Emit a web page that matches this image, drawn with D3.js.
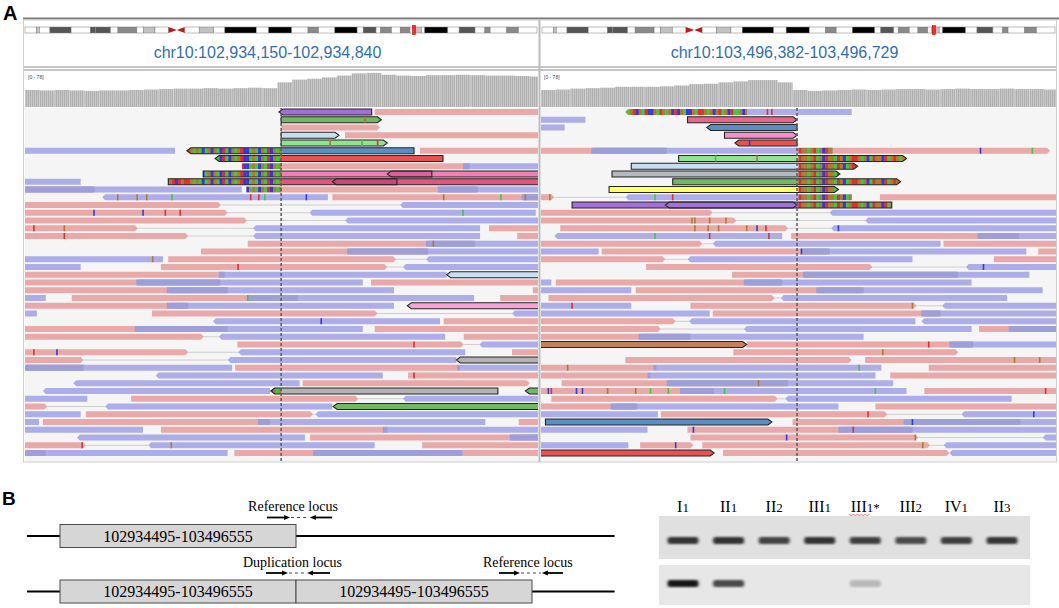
<!DOCTYPE html>
<html>
<head>
<meta charset="utf-8">
<script src="https://cdn.jsdelivr.net/npm/d3@7"></script>
<style>
  body { margin: 0; background: #fff; }
  svg { display: block; }
</style>
</head>
<body>
<svg id="fig" width="1059" height="608"></svg>
<script>
// ---- data -------------------------------------------------------------

// genomic windows shown in the two IGV panels and the duplication breakpoints
const windowLeft = [102934150, 102934840];
const windowRight = [103496382, 103496729];
const breakpoints = [102934495, 103496555];
const locusLabels = ["chr10:102,934,150-102,934,840", "chr10:103,496,382-103,496,729"];
const coverageRange = 78;

// chr10 cytobands (Mb)
const chr10Bands = [
  [0, 3.0, "gneg"], [3.0, 3.8, "gpos25"], [3.8, 6.6, "gneg"], [6.6, 12.2, "gpos75"],
  [12.2, 17.3, "gneg"], [17.3, 18.6, "gpos75"], [18.6, 18.7, "gneg"], [18.7, 22.6, "gpos75"],
  [22.6, 24.6, "gneg"], [24.6, 29.6, "gpos50"], [29.6, 31.3, "gneg"], [31.3, 34.4, "gpos25"],
  [34.4, 38.0, "gneg"], [38.0, 40.2, "acen"], [40.2, 42.3, "acen"], [42.3, 46.1, "gneg"],
  [46.1, 49.9, "gpos25"], [49.9, 52.9, "gneg"], [52.9, 61.2, "gpos100"], [61.2, 64.5, "gneg"],
  [64.5, 70.6, "gpos100"], [70.6, 74.9, "gneg"], [74.9, 77.7, "gpos50"], [77.7, 82.0, "gneg"],
  [82.0, 87.9, "gpos100"], [87.9, 89.5, "gneg"], [89.5, 92.9, "gpos75"], [92.9, 94.1, "gneg"],
  [94.1, 97.0, "gpos50"], [97.0, 99.3, "gneg"], [99.3, 101.9, "gpos50"], [101.9, 103.0, "gneg"],
  [103.0, 104.9, "gpos25"], [104.9, 105.8, "gneg"], [105.8, 111.9, "gpos100"], [111.9, 114.9, "gneg"],
  [114.9, 119.1, "gpos75"], [119.1, 121.7, "gneg"], [121.7, 123.1, "gpos50"], [123.1, 127.5, "gneg"],
  [127.5, 130.6, "gpos50"], [130.6, 135.5, "gneg"]
];
const chr10Length = 135.5;

// coverage (reads) per bin, bins of 20 bp (left) and 10 bp (right)
const coverageLeft = [38, 37, 38, 37, 36, 37, 37, 38, 39, 40, 41, 41, 42, 41, 42, 43, 42, 55, 61, 63,
  66, 70, 75, 76, 72, 70, 69, 71, 71, 72, 71, 70, 70, 69, 68];
const coverageRight = [38, 39, 41, 42, 43, 45, 45, 45, 46, 48, 51, 52, 55, 57, 60, 60, 55, 38, 36, 37,
  38, 39, 38, 39, 40, 40, 39, 40, 41, 40, 40, 41, 40, 40, 39];

// reads: [row, start bp, end bp (offsets in window), kind, strand]
const readsLeft = [
  [0, 342, 467, "purple", -1], [0, 471, 700, "f"],
  [1, 345, 480, "green", 1],
  [2, 345, 478, "f"],
  [3, 345, 423, "lblue", 1], [3, 431, 700, "f"],
  [4, 345, 488, "lgreen", 1],
  [5, -10, 202, "r"], [5, 218, 524, "steel", -1], [5, 532, 700, "f"],
  [6, 256, 563, "red", -1],
  [7, 292, 599, "f"], [7, 590, 700, "r"],
  [8, 240, 700, "hot", 1], [8, 488, 548, "hotdark", -1],
  [9, -10, 75, "r"], [9, 193, 700, "rose", 1], [9, 414, 501, "rosedark", -1],
  [10, -10, 94, "f"], [10, -10, 292, "r"], [10, 298, 610, "f"], [10, 556, 700, "r"],
  [11, 104, 408, "r"], [11, 414, 700, "f"], [11, 669, 700, "r"],
  [12, -10, 264, "f"], [12, 505, 700, "r"],
  [13, -10, 273, "f"], [13, 383, 688, "r"],
  [14, -10, 299, "f"], [14, 431, 700, "r"],
  [15, -10, 152, "f"], [15, 307, 613, "r"], [15, 625, 700, "f"],
  [16, -10, 220, "f"], [16, 307, 613, "r"], [16, 663, 700, "f"],
  [17, 300, 606, "f"], [17, 540, 700, "r"],
  [18, 237, 543, "f"], [18, 434, 700, "r"],
  [19, -10, 186, "r"], [19, 193, 500, "f"], [19, 540, 700, "r"],
  [20, -10, 75, "r"], [20, 183, 488, "f"], [20, 509, 700, "r"],
  [21, -10, 269, "f"], [21, 261, 568, "r"], [21, 568, 700, "lblue", -1],
  [22, -10, 263, "f"], [22, 150, 455, "r"], [22, 466, 700, "f"],
  [23, -10, 273, "f"], [23, 191, 497, "r"], [23, 684, 700, "f"],
  [24, -10, 28, "r"], [24, 63, 368, "f"], [24, 300, 605, "r"], [24, 640, 700, "f"],
  [25, -10, 220, "f"], [25, 191, 497, "r"], [25, 515, 700, "lpink", -1],
  [26, -10, 16, "r"], [26, 171, 475, "f"], [26, 656, 700, "r"],
  [27, 253, 559, "r"], [27, 564, 700, "f"],
  [28, -10, 273, "f"], [28, 148, 455, "r"], [28, 471, 700, "f"],
  [29, -10, 241, "f"], [29, 261, 566, "r"], [29, 591, 700, "f"],
  [30, 286, 591, "f"], [30, 612, 700, "r"],
  [31, -10, 220, "f"], [31, 287, 593, "r"], [31, 656, 700, "f"],
  [32, -10, 79, "f"], [32, 273, 581, "r"], [32, 581, 700, "gray", -1],
  [33, -10, 79, "f"], [33, -10, 279, "r"], [33, 283, 586, "f"], [33, 582, 700, "r"],
  [34, 176, 482, "r"], [34, 516, 700, "f"],
  [35, 65, 370, "r"], [35, 374, 680, "f"],
  [36, 24, 330, "r"], [36, 331, 637, "gray", -1], [36, 674, 700, "green", -1],
  [37, -10, 84, "r"], [37, 143, 449, "f"], [37, 509, 700, "r"],
  [38, -10, 30, "f"], [38, 108, 414, "r"], [38, 415, 700, "green", -1],
  [39, -10, 75, "r"], [39, 82, 388, "f"], [39, 391, 700, "r"],
  [40, -10, 19, "r"], [40, 24, 330, "f"], [40, 314, 620, "r"], [40, 665, 700, "f"],
  [41, -10, 159, "r"], [41, 183, 488, "f"], [41, 482, 700, "r"],
  [42, 70, 377, "r"], [42, 384, 700, "f"], [42, 653, 700, "r"],
  [43, -10, 82, "f"], [43, 166, 471, "r"], [43, 535, 700, "f"],
  [44, -10, 28, "f"], [44, -10, 273, "r"], [44, 282, 700, "f"], [44, 388, 589, "r"]
];

const readsRight = [
  [0, 57, 210, "r"],
  [1, -5, 30, "r"], [1, 99, 173, "rosebright", 1],
  [2, -5, 16, "r"], [2, 112, 173, "steel", -1],
  [3, 124, 173, "lpink2", 1],
  [4, 131, 173, "red", -1],
  [5, -5, 85, "f"], [5, 34, 197, "r"], [5, 191, 344, "f"],
  [6, 93, 247, "lgreen", 1],
  [7, 61, 214, "lblue", 1],
  [8, 48, 202, "gray2", 1],
  [9, 89, 243, "green", 1],
  [10, 46, 201, "yellow", 1],
  [11, -5, 9, "f"], [11, 57, 210, "r"], [11, 229, 356, "f"],
  [12, 21, 173, "purple", 1], [12, 84, 237, "purple", -1],
  [13, -5, 116, "f"], [13, 195, 356, "r"],
  [14, -5, 132, "f"], [14, 219, 356, "r"],
  [15, 13, 167, "f"], [15, 196, 356, "r"],
  [16, 9, 163, "r"], [16, 169, 323, "f"], [16, 295, 356, "r"],
  [17, -5, 109, "f"], [17, 116, 270, "r"], [17, 272, 356, "f"],
  [18, -5, 39, "r"], [18, 41, 195, "f"], [18, 176, 328, "r"], [18, 336, 356, "f"],
  [19, -5, 84, "f"], [19, 99, 251, "r"], [19, 306, 356, "f"],
  [20, 71, 224, "f"], [20, 287, 356, "r"],
  [21, 129, 282, "f"], [21, 177, 330, "r"],
  [22, -5, 7, "r"], [22, 10, 163, "f"], [22, 137, 291, "r"],
  [23, -5, 61, "r"], [23, 64, 218, "f"], [23, 186, 339, "r"],
  [24, 5, 158, "f"], [24, 162, 315, "r"],
  [25, -5, 61, "r"], [25, 101, 254, "f"], [25, 271, 356, "r"],
  [26, -5, 114, "r"], [26, 116, 270, "f"], [26, 257, 356, "r"],
  [27, -5, 91, "f"], [27, 100, 253, "r"], [27, 257, 356, "r"],
  [28, -5, 81, "f"], [28, 137, 291, "r"], [28, 296, 356, "f"], [28, 316, 356, "r"],
  [29, -5, 101, "f"], [29, 66, 218, "r"],
  [30, -5, 139, "brown", 1], [30, 139, 292, "f"], [30, 276, 356, "r"],
  [31, 130, 282, "f"],
  [32, 57, 210, "f"], [32, 219, 356, "f"],
  [33, -5, 78, "f"], [33, 76, 230, "r"], [33, 262, 356, "f"],
  [34, -5, 74, "f"], [34, 72, 226, "r"], [34, 236, 356, "f"],
  [35, 14, 167, "f"], [35, 85, 238, "r"],
  [36, -5, 117, "f"], [36, 94, 247, "r"], [36, 259, 356, "f"],
  [37, 7, 160, "f"], [37, 165, 318, "r"],
  [38, -5, 65, "f"], [38, 47, 201, "r"], [38, 226, 356, "f"],
  [39, -5, 79, "r"], [39, 81, 234, "f"], [39, 284, 356, "r"],
  [40, 3, 156, "steel", 1], [40, 170, 324, "f"], [40, 245, 356, "r"],
  [41, -5, 72, "r"], [41, 99, 251, "f"], [41, 201, 356, "r"],
  [42, 101, 255, "f"], [42, 339, 356, "r"],
  [43, -5, 59, "r"], [43, 67, 103, "f"], [43, 109, 263, "f"], [43, 272, 356, "r"],
  [44, -5, 117, "red", 1], [44, 123, 276, "f"], [44, 276, 356, "r"]
];

// soft-clipped stretches: [row, start, end]
const clipsLeft = [[5, 218, 345], [6, 256, 345], [7, 292, 345], [8, 240, 345], [9, 193, 345],
  [10, 298, 345], [36, 331, 345]];
const clipsRight = [[0, 57, 139], [5, 173, 197], [6, 173, 247], [7, 173, 214], [8, 173, 202],
  [9, 173, 243], [10, 173, 201], [11, 173, 210], [12, 173, 237]];

// clipped bases (one letter per band), left from bp 190 in 4 bp bands, right from bp 56 in 2 bp bands
const clipSeqLeft = "TGTCTGTTGAGACAGCGACTACGAGTCCAGACGATCGAG";
const clipSeqRight = "GAGTCGATCCGATGAGCTCGACCGATTGAGCGTAGCTAAGCG" + "-----------------" +
  "TGGAGTAGCTGGATGCAGTTGAGCATGGCTAGTGAGT";

// single-base mismatches: [row, bp, base]
const mismatchLeft = [
  [1, 458, "G"], [4, 411, "G"], [4, 454, "A"], [4, 475, "T"],
  [11, 125, "G"], [11, 151, "G"], [11, 164, "G"], [11, 198, "A"], [11, 304, "T"], [11, 315, "T"],
  [11, 323, "A"], [11, 379, "C"], [11, 564, "G"], [11, 641, "A"], [11, 674, "G"],
  [13, 93, "C"], [13, 159, "C"], [13, 189, "T"], [13, 209, "T"], [13, 590, "A"],
  [15, 12, "T"], [15, 53, "G"], [16, 53, "T"], [17, 550, "G"], [19, 172, "G"], [20, 287, "T"],
  [24, 300, "A"], [27, 399, "C"], [30, 524, "T"], [31, 12, "T"], [31, 43, "C"], [34, 524, "T"],
  [43, 77, "T"], [43, 197, "G"]
];
const mismatchRight = [
  [0, 153, "T"], [0, 156, "T"], [4, 141, "C"], [5, 297, "C"], [5, 332, "A"], [6, 118, "A"], [6, 146, "G"],
  [11, 6, "G"], [11, 77, "A"], [11, 89, "T"],
  [14, 102, "G"], [14, 104, "G"], [14, 114, "G"], [14, 125, "G"],
  [15, 104, "G"], [15, 113, "G"], [15, 120, "G"], [15, 139, "G"], [15, 146, "C"], [15, 152, "T"], [15, 201, "C"],
  [16, 77, "A"], [16, 114, "T"], [16, 154, "T"], [18, 176, "C"], [20, 299, "C"], [25, 21, "T"], [25, 251, "G"],
  [30, 262, "T"], [31, 231, "G"], [32, 320, "G"], [32, 337, "G"], [33, 18, "G"], [33, 215, "A"], [35, 147, "G"],
  [36, 5, "C"], [36, 7, "T"], [36, 24, "C"], [36, 28, "C"], [36, 45, "G"], [36, 64, "G"], [36, 74, "A"],
  [36, 86, "A"], [36, 124, "A"], [36, 226, "A"], [36, 341, "T"],
  [39, 221, "T"], [39, 333, "C"], [40, 251, "C"], [41, 103, "C"], [41, 211, "T"],
  [42, 166, "C"], [42, 253, "G"], [43, 91, "C"], [43, 258, "G"]
];

// panel B schematic (x in units of one duplicated segment)
const segmentLabel = "102934495-103496555";
const schemeLines = [[0, -0.14, 2.35], [1, -0.14, 2.35]];
const schemeBoxes = [[0, 0, 1], [1, 0, 1], [1, 1, 2]];
const schemePrimers = [[0, 0.877, 0.975, 1.059, 1.153], [1, 0.873, 0.966, 1.047, 1.144], [1, 1.860, 1.949, 2.042, 2.131]];
const schemeLabels = [[0, 0.797, "Reference locus"], [1, 0.775, "Duplication locus"], [1, 1.792, "Reference locus"]];

// gel lanes
const gelLanes = ["I", "II", "II", "III", "III", "III", "IV", "II"];
const gelLaneNum = ["1", "1", "2", "1", "1", "2", "1", "3"];
const gelLaneMark = ["", "", "", "", "*", "", "", ""];
const gelTopBand = [0.85, 0.85, 0.78, 0.85, 0.8, 0.74, 0.8, 0.84];
const gelBottomBand = [1.0, 0.75, 0, 0, 0.22, 0, 0, 0];

// ---- styles -----------------------------------------------------------
const sans = "'Liberation Sans', Arial, sans-serif";
const serif = "'Liberation Serif', 'Times New Roman', serif";
const stainColor = { gneg: "#ffffff", gpos25: "#c2c2c2", gpos50: "#8a8a8a", gpos75: "#555555", gpos100: "#000000", acen: "#c01818" };
const readFill = {
  f: "#e9a9a9", r: "#adadea", purple: "#a46fd8", green: "#72b862", lgreen: "#92e092", lblue: "#c9def2",
  steel: "#5b8ec2", red: "#e65252", hot: "#f27fb3", hotdark: "#e0609a", rose: "#e2557f", rosedark: "#d04575",
  rosebright: "#e8668a", lpink: "#f7a3d5", lpink2: "#f78fca", gray: "#b2b2b2", gray2: "#b5b8bf",
  brown: "#c1805e", yellow: "#ffff66"
};
const baseColor = { A: "#3ec93e", C: "#3838e0", G: "#b07a30", T: "#e03030" };

const svg = d3.select("#fig");
const defs = svg.append("defs");

const pat = defs.append("pattern").attr("id", "covpat").attr("patternUnits", "userSpaceOnUse")
  .attr("width", 2).attr("height", 10);
pat.append("rect").attr("width", 2).attr("height", 10).attr("fill", "#d6d6d6");
pat.append("rect").attr("width", 1.4).attr("height", 10).attr("fill", "#b0b0b0");

const blur = defs.append("filter").attr("id", "bandblur").attr("x", "-30%").attr("y", "-100%")
  .attr("width", "160%").attr("height", "300%");
blur.append("feGaussianBlur").attr("stdDeviation", "1.5 1.1");

// ---- panel A ----------------------------------------------------------
svg.append("text").attr("x", 3).attr("y", 20).text("A")
  .style("font-family", sans).style("font-weight", "bold").style("font-size", "20px");
svg.append("line").attr("x1", 23).attr("x2", 1059).attr("y1", 18.5).attr("y2", 18.5)
  .attr("stroke", "#7a7a7a").attr("stroke-width", 1.8);

const readTop = 108, readBottom = 462;
const rowY = d3.scaleLinear().domain([0, 44]).range([112, 453]);
const readH = 6;

function readPath(xa, xb, yc, strand, tip) {
  const t = Math.min(tip, Math.max(0, (xb - xa) / 2));
  const y0 = yc - readH / 2, y1 = yc + readH / 2;
  if (strand > 0) return `M${xa},${y0}H${xb - t}L${xb},${yc}L${xb - t},${y1}H${xa}Z`;
  return `M${xa + t},${y0}H${xb}V${y1}H${xa + t}L${xa},${yc}Z`;
}

const panels = [
  { name: "L", win: windowLeft, brk: breakpoints[0], label: locusLabels[0], x0: 25, x1: 538, ideo: [25, 537],
    reads: readsLeft, clips: clipsLeft, mism: mismatchLeft, cov: coverageLeft, bin: 20,
    seq: clipSeqLeft, seqFrom: 190, seqBp: 4 },
  { name: "R", win: windowRight, brk: breakpoints[1], label: locusLabels[1], x0: 541, x1: 1056, ideo: [542, 1055],
    reads: readsRight, clips: clipsRight, mism: mismatchRight, cov: coverageRight, bin: 10,
    seq: clipSeqRight, seqFrom: 56, seqBp: 2 }
];

panels.forEach(p => {
  const len = p.win[1] - p.win[0] + 1;
  const x = d3.scaleLinear().domain([0, len]).range([p.x0, p.x1]);
  const g = svg.append("g");

  // ideogram
  const ix = d3.scaleLinear().domain([0, chr10Length]).range(p.ideo);
  const iy0 = 27, iy1 = 33, iym = 30;
  chr10Bands.forEach((b, i) => {
    const xa = ix(b[0]), xb = ix(b[1]);
    if (b[2] === "acen") {
      const first = chr10Bands[i - 1][2] !== "acen";
      const pts = first ? [[xa, iy0], [xb, iym], [xa, iy1]] : [[xa, iym], [xb, iy0], [xb, iy1]];
      g.append("polygon").attr("points", pts.join(" ")).attr("fill", stainColor.acen);
    } else {
      g.append("rect").attr("x", xa).attr("y", iy0).attr("width", xb - xa).attr("height", iy1 - iy0)
        .attr("fill", stainColor[b[2]]).attr("stroke", "#7a7a7a").attr("stroke-width", 0.5);
    }
  });
  const lx = ix(p.win[0] / 1e6);
  g.append("rect").attr("x", lx - 1.5).attr("y", 25.5).attr("width", 3).attr("height", 9)
    .attr("fill", "#ff2a2a").attr("stroke", "#d40000").attr("stroke-width", 0.6);

  // locus text
  g.append("text").attr("x", (p.x0 + p.x1) / 2 - 14).attr("y", 58).attr("text-anchor", "middle")
    .text(p.label).style("font-family", sans).style("font-size", "16px").attr("fill", "#2f6fb0");

  // double divider
  [67, 70].forEach(yy => g.append("line").attr("x1", p.x0 - 1).attr("x2", p.x1 + 1).attr("y1", yy).attr("y2", yy)
    .attr("stroke", "#8e8e8e").attr("stroke-width", 1.2));

  // coverage
  const cy = d3.scaleLinear().domain([0, coverageRange]).range([107, 72]);
  g.selectAll(null).data(p.cov).join("rect")
    .attr("x", (d, i) => x(i * p.bin))
    .attr("width", (d, i) => x(Math.min((i + 1) * p.bin, len)) - x(i * p.bin))
    .attr("y", d => cy(d)).attr("height", d => cy(0) - cy(d))
    .attr("fill", "url(#covpat)");
  g.append("text").attr("x", p.x0 + 3).attr("y", 79).text(`[0 - ${coverageRange}]`)
    .style("font-family", sans).style("font-size", "5px").attr("fill", "#444");

  // reads area
  g.append("rect").attr("x", p.x0).attr("y", readTop).attr("width", p.x1 - p.x0).attr("height", readBottom - readTop)
    .attr("fill", "#f5f5f5");
  const cid = "pc" + p.name;
  defs.append("clipPath").attr("id", cid).append("rect")
    .attr("x", p.x0).attr("y", readTop).attr("width", p.x1 - p.x0).attr("height", readBottom - readTop);
  const rg = g.append("g").attr("clip-path", `url(#${cid})`);

  const strandOf = r => r[3] === "f" ? 1 : r[3] === "r" ? -1 : r[4];
  const isPlain = r => r[3] === "f" || r[3] === "r";
  const pathOf = r => readPath(x(r[1]), x(r[2]), rowY(r[0]), strandOf(r), isPlain(r) ? 3 : 4);

  // pair lines between a forward read and the next reverse read
  const byRow = d3.group(p.reads.filter(isPlain), r => r[0]);
  byRow.forEach(list => {
    const s = list.slice().sort((a, b) => a[1] - b[1]);
    for (let i = 0; i < s.length - 1; i++) {
      const a = s[i], b = s[i + 1];
      if (a[3] === "f" && b[3] === "r" && b[1] > a[2]) {
        rg.append("line").attr("x1", x(a[2])).attr("x2", x(b[1])).attr("y1", rowY(a[0])).attr("y2", rowY(a[0]))
          .attr("stroke", "#c4c4c4").attr("stroke-width", 0.8);
      }
    }
  });

  rg.selectAll(null).data(p.reads.filter(isPlain)).join("path")
    .attr("d", pathOf).attr("fill", d => readFill[d[3]]);

  // overlapping mates
  byRow.forEach(list => {
    list.forEach(a => list.forEach(b => {
      if (a[3] === "f" && b[3] === "r") {
        const lo = Math.max(a[1], b[1]), hi = Math.min(a[2], b[2]);
        if (hi > lo) rg.append("rect").attr("x", x(lo)).attr("width", x(hi) - x(lo))
          .attr("y", rowY(a[0]) - readH / 2).attr("height", readH).attr("fill", "#9e9ed8");
      }
    }));
  });

  const colored = p.reads.filter(r => !isPlain(r));
  rg.selectAll(null).data(colored).join("path")
    .attr("d", pathOf).attr("fill", d => readFill[d[3]]);

  // soft clips
  p.clips.forEach((c, ci) => {
    const [row, s, e] = c;
    const parent = p.reads.find(r => r[0] === row && r[1] <= s && r[2] >= e);
    const id = `cl${p.name}${ci}`;
    const cp = defs.append("clipPath").attr("id", id);
    if (parent) cp.append("path").attr("d", pathOf(parent));
    else cp.append("rect").attr("x", x(s)).attr("width", x(e) - x(s)).attr("y", rowY(row) - readH / 2).attr("height", readH);
    const cg = rg.append("g").attr("clip-path", `url(#${id})`);
    p.seq.split("").forEach((base, k) => {
      const bs = p.seqFrom + k * p.seqBp, be = bs + p.seqBp;
      const lo = Math.max(bs, s), hi = Math.min(be, e);
      if (hi > lo && baseColor[base]) {
        cg.append("rect").attr("x", x(lo)).attr("width", x(hi) - x(lo) + 0.3)
          .attr("y", rowY(row) - readH / 2).attr("height", readH).attr("fill", baseColor[base]);
      }
    });
  });

  rg.selectAll(null).data(colored).join("path")
    .attr("d", pathOf).attr("fill", "none").attr("stroke", "#262626").attr("stroke-width", 1.1);

  rg.selectAll(null).data(p.mism).join("rect")
    .attr("x", d => x(d[1]) - 0.8).attr("width", 1.6)
    .attr("y", d => rowY(d[0]) - readH / 2).attr("height", readH)
    .attr("fill", d => baseColor[d[2]]);

  // centre line at breakpoint
  const bx = x(p.brk - p.win[0]);
  g.append("line").attr("x1", bx).attr("x2", bx).attr("y1", readTop).attr("y2", readBottom)
    .attr("stroke", "#5a5a5a").attr("stroke-width", 1.5).attr("stroke-dasharray", "3,2");
});

// panel frames
svg.append("rect").attr("x", 23.5).attr("y", 20).attr("width", 1033).attr("height", 442)
  .attr("fill", "none").attr("stroke", "#cfcfcf").attr("stroke-width", 1);
svg.append("line").attr("x1", 539.5).attr("x2", 539.5).attr("y1", 20).attr("y2", 462)
  .attr("stroke", "#bcbcbc").attr("stroke-width", 2);

// ---- panel B schematic -------------------------------------------------
svg.append("text").attr("x", 2).attr("y", 505).text("B")
  .style("font-family", sans).style("font-weight", "bold").style("font-size", "19px");

const sx = d3.scaleLinear().domain([0, 1]).range([60, 296]);
const schemeY = d3.scaleOrdinal().domain([0, 1]).range([536, 591.5]);
const sg = svg.append("g");

sg.selectAll(null).data(schemeLines).join("line")
  .attr("x1", d => sx(d[1])).attr("x2", d => sx(d[2]))
  .attr("y1", d => schemeY(d[0])).attr("y2", d => schemeY(d[0]))
  .attr("stroke", "#000").attr("stroke-width", 2.2);

sg.selectAll(null).data(schemeBoxes).join("rect")
  .attr("x", d => sx(d[1])).attr("width", d => sx(d[2]) - sx(d[1]))
  .attr("y", d => schemeY(d[0]) - 11.5).attr("height", 23)
  .attr("fill", "#d6d6d6").attr("stroke", "#4a4a4a").attr("stroke-width", 1);

sg.selectAll(null).data(schemeBoxes).join("text")
  .attr("x", d => (sx(d[1]) + sx(d[2])) / 2).attr("y", d => schemeY(d[0]) + 5.5)
  .attr("text-anchor", "middle").text(segmentLabel)
  .style("font-family", serif).style("font-size", "16px");

sg.selectAll(null).data(schemeLabels).join("text")
  .attr("x", d => sx(d[1])).attr("y", d => schemeY(d[0]) - 25)
  .text(d => d[2]).style("font-family", serif).style("font-size", "14px");

schemePrimers.forEach(pr => {
  const y = schemeY(pr[0]) - 18.5;
  const a = sx(pr[1]), b = sx(pr[2]), c = sx(pr[3]), d = sx(pr[4]);
  sg.append("line").attr("x1", a).attr("x2", b - 4).attr("y1", y).attr("y2", y).attr("stroke", "#000").attr("stroke-width", 1.8);
  sg.append("polygon").attr("points", `${b},${y} ${b - 6},${y - 2.5} ${b - 6},${y + 2.5}`).attr("fill", "#000");
  sg.append("line").attr("x1", b + 1).attr("x2", c - 1).attr("y1", y).attr("y2", y)
    .attr("stroke", "#444").attr("stroke-width", 1).attr("stroke-dasharray", "3,3");
  sg.append("line").attr("x1", c + 4).attr("x2", d).attr("y1", y).attr("y2", y).attr("stroke", "#000").attr("stroke-width", 1.8);
  sg.append("polygon").attr("points", `${c},${y} ${c + 6},${y - 2.5} ${c + 6},${y + 2.5}`).attr("fill", "#000");
});

// ---- gel --------------------------------------------------------------
const lx = d3.scalePoint().domain(d3.range(gelLanes.length)).range([683, 1002]);
const gg = svg.append("g");
const gels = [{ y: 516, h: 43, band: 540.5, fill: "#e0e0e0", vals: gelTopBand },
              { y: 565, h: 40, band: 583.5, fill: "#e7e7e7", vals: gelBottomBand }];
gels.forEach(gl => {
  gg.append("rect").attr("x", 659).attr("y", gl.y).attr("width", 371).attr("height", gl.h).attr("fill", gl.fill);
  gg.selectAll(null).data(gl.vals.map((v, i) => [i, v]).filter(d => d[1] > 0)).join("rect")
    .attr("x", d => lx(d[0]) - 15.5).attr("width", 31)
    .attr("y", gl.band - 3.5).attr("height", 7).attr("rx", 2.5)
    .attr("fill", "#161616").attr("opacity", d => d[1]).attr("filter", "url(#bandblur)");
});

const lt = gg.selectAll(null).data(gelLanes).join("text")
  .attr("x", (d, i) => lx(i)).attr("y", 512).attr("text-anchor", "middle")
  .style("font-family", serif);
lt.append("tspan").text(d => d).style("font-size", "16px");
lt.append("tspan").text((d, i) => gelLaneNum[i]).style("font-size", "13px");
lt.filter((d, i) => gelLaneMark[i]).append("tspan").text((d, i) => gelLaneMark[4]).style("font-size", "13px");

// spell-check squiggle under the starred label
const sq = d3.range(0, 21, 2).map(k => [lx(4) - 16 + k, 514.5 + (k % 4 === 0 ? 0 : 1)]);
gg.append("path").attr("d", d3.line()(sq)).attr("fill", "none").attr("stroke", "#e04040").attr("stroke-width", 0.7);
</script>
</body>
</html>
